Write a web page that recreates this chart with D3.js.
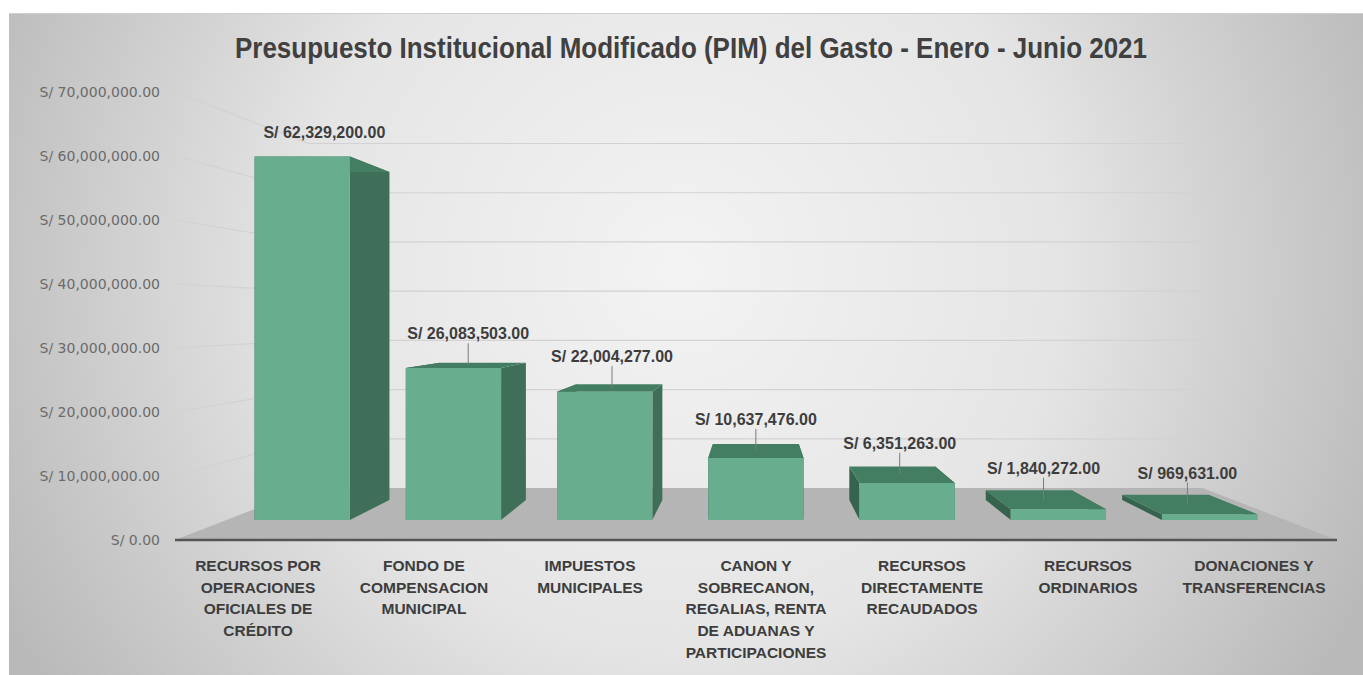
<!DOCTYPE html>
<html>
<head>
<meta charset="utf-8">
<script src="https://d3js.org/d3.v7.min.js"></script>
<style>
  body { margin: 0; background: #fff; }
  svg { display: block; }
  .axis text { font-family: "DejaVu Sans", sans-serif; font-size: 14px; fill: #6b6b6b; }
  .cat text { font-family: "Liberation Sans", Arial, sans-serif; font-weight: bold; font-size: 15.5px; fill: #3d3d3d; }
  .val { font-family: "Liberation Sans", Arial, sans-serif; font-weight: bold; font-size: 16px; fill: #3d3d3d; }
</style>
</head>
<body>
<script>
// data
var title = "Presupuesto Institucional Modificado (PIM) del Gasto - Enero - Junio 2021";
var categories = [
  ["RECURSOS POR", "OPERACIONES", "OFICIALES DE", "CRÉDITO"],
  ["FONDO DE", "COMPENSACION", "MUNICIPAL"],
  ["IMPUESTOS", "MUNICIPALES"],
  ["CANON Y", "SOBRECANON,", "REGALIAS, RENTA", "DE ADUANAS Y", "PARTICIPACIONES"],
  ["RECURSOS", "DIRECTAMENTE", "RECAUDADOS"],
  ["RECURSOS", "ORDINARIOS"],
  ["DONACIONES Y", "TRANSFERENCIAS"]
];
var values = [62329200, 26083503, 22004277, 10637476, 6351263, 1840272, 969631];
var tickValues = [0, 10000000, 20000000, 30000000, 40000000, 50000000, 60000000, 70000000];

var width = 1363, height = 675;
var money = function(v) { return "S/ " + d3.format(",.2f")(v); };

// front plane of the 3d box + vanishing point
var x = d3.scaleBand().domain(d3.range(categories.length)).range([175, 1337])
          .paddingInner(0.37).paddingOuter(0.185);
var y = d3.scaleLinear().domain([0, 70000000]).range([540, 92]);
var vp = {x: 755, y: 315};
var floorBack = 0.769, barFront = 0.911, barBack = 0.822, barMid = (barFront + barBack) / 2;

function P(px, py, s) {
  return [vp.x + (px - vp.x) * s, vp.y + (py - vp.y) * s];
}

var svg = d3.select("body").append("svg")
    .attr("width", width).attr("height", height);

var defs = svg.append("defs");
var grad = defs.append("radialGradient").attr("id", "bg")
    .attr("gradientUnits", "userSpaceOnUse")
    .attr("cx", 680).attr("cy", 270).attr("r", 760);
grad.append("stop").attr("offset", 0).attr("stop-color", "#f3f3f3");
grad.append("stop").attr("offset", 0.5).attr("stop-color", "#e5e5e5");
grad.append("stop").attr("offset", 1).attr("stop-color", "#b9b9b9");

svg.append("rect").attr("x", 9).attr("y", 13)
   .attr("width", width - 9).attr("height", height - 13)
   .attr("fill", "url(#bg)");
svg.append("line").attr("x1", 9).attr("x2", width).attr("y1", 13.5).attr("y2", 13.5)
   .attr("stroke", "#cfcfcf").attr("stroke-width", 1);

// title
svg.append("text")
   .attr("x", 691).attr("y", 58)
   .attr("text-anchor", "middle")
   .attr("textLength", 912).attr("lengthAdjust", "spacingAndGlyphs")
   .style("font-family", "'Liberation Sans', Arial, sans-serif")
   .style("font-weight", "bold").style("font-size", "29px")
   .style("fill", "#404040")
   .text(title);

// gridlines: left wall + back wall
var x0 = x.range()[0], x1 = x.range()[1];
var grid = svg.append("g").attr("stroke", "#d2d2d2").attr("stroke-width", 1.2).attr("fill", "none");
grid.selectAll("path").data(tickValues.filter(function(t) { return t > 0; }))
  .enter().append("path")
  .attr("d", function(t) {
    var a = [x0, y(t)], b = P(x0, y(t), floorBack), c = P(x1, y(t), floorBack);
    return d3.line()([a, b, c]);
  });

// floor
svg.append("path")
   .attr("d", d3.line()([[x0, y(0)], [x1, y(0)], P(x1, y(0), floorBack), P(x0, y(0), floorBack)]) + "Z")
   .attr("fill", "#b5b5b5");

// y axis labels
svg.append("g").attr("class", "axis")
   .attr("transform", "translate(" + x0 + ",0)")
   .call(d3.axisLeft(y).tickValues(tickValues).tickFormat(money).tickSize(0).tickPadding(15))
   .call(function(g) { g.select(".domain").remove(); });

// bars
var bars = svg.selectAll(".bar").data(values).enter().append("g").attr("class", "bar");
function face(d, i, kind) {
  var a = x(i), b = x(i) + x.bandwidth(), t = y(d), z = y(0);
  var pts;
  if (kind === "left") pts = [P(a, t, barFront), P(a, t, barBack), P(a, z, barBack), P(a, z, barFront)];
  if (kind === "right") pts = [P(b, t, barFront), P(b, t, barBack), P(b, z, barBack), P(b, z, barFront)];
  if (kind === "top") pts = [P(a, t, barFront), P(b, t, barFront), P(b, t, barBack), P(a, t, barBack)];
  if (kind === "front") pts = [P(a, t, barFront), P(b, t, barFront), P(b, z, barFront), P(a, z, barFront)];
  return d3.line()(pts) + "Z";
}
var faceColors = {left: "#36634e", right: "#406f59", top: "#447e62", front: "#69ad8f"};
["left", "right", "top", "front"].forEach(function(k) {
  bars.append("path")
      .attr("d", function(d, i) { return face(d, i, k); })
      .attr("fill", faceColors[k]);
});

// front edge of the floor
svg.append("line")
   .attr("x1", x0).attr("x2", x1).attr("y1", y(0)).attr("y2", y(0))
   .attr("stroke", "#555").attr("stroke-width", 2.5);

// value labels with leader lines
var labelGap = 26;
var lab = svg.selectAll(".vlab").data(values).enter().append("g").attr("class", "vlab");
lab.each(function(d, i) {
  var c = P(x(i) + x.bandwidth() / 2, y(d), barMid);
  var g = d3.select(this);
  if (y(d) > vp.y) {
    g.append("line")
     .attr("x1", c[0]).attr("x2", c[0])
     .attr("y1", c[1] - labelGap + 4).attr("y2", c[1])
     .attr("stroke", "#7a7a7a").attr("stroke-width", 1);
  }
  g.append("text").attr("class", "val")
   .attr("x", c[0]).attr("y", c[1] - labelGap)
   .attr("text-anchor", "middle")
   .text(money(d));
});

// category labels
var cat = svg.append("g").attr("class", "cat");
cat.selectAll("text").data(categories).enter().append("text")
   .attr("text-anchor", "middle")
   .attr("x", function(d, i) { return x(i) + x.bandwidth() / 2; })
   .attr("y", 571)
   .each(function(lines) {
     var t = d3.select(this), cx = t.attr("x");
     lines.forEach(function(line, j) {
       t.append("tspan").attr("x", cx).attr("dy", j === 0 ? 0 : 21.7).text(line);
     });
   });
</script>
</body>
</html>
